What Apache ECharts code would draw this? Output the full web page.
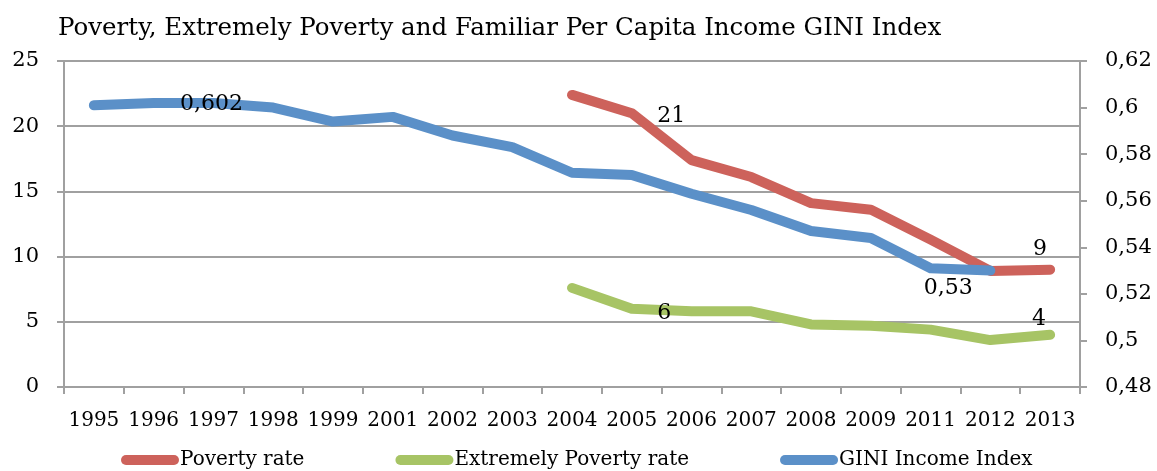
<!DOCTYPE html>
<html>
<head>
<meta charset="utf-8">
<script src="https://cdn.jsdelivr.net/npm/echarts@6/dist/echarts.min.js"></script>
<style>
  html, body { margin: 0; padding: 0; background: #ffffff; }
  #chart { width: 1157px; height: 471px; }
</style>
</head>
<body>
<div id="chart"></div>
<script>
// Years on the category axis
const years = ['1995','1996','1997','1998','1999','2001','2002','2003','2004','2005','2006','2007','2008','2009','2011','2012','2013'];

// Poverty rate (%), left axis
const povertyRate = [null, null, null, null, null, null, null, null, 22.4, 21, 17.4, 16.1, 14.1, 13.6, 11.3, 8.9, 9];

// Extreme poverty rate (%), left axis
const extremePovertyRate = [null, null, null, null, null, null, null, null, 7.6, 6, 5.8, 5.8, 4.8, 4.7, 4.4, 3.6, 4];

// GINI index of per-capita family income, right axis
const giniIndex = [0.601, 0.602, 0.602, 0.600, 0.594, 0.596, 0.588, 0.583, 0.572, 0.571, 0.563, 0.556, 0.547, 0.544, 0.531, 0.53, null];

// Tick settings
const leftTicks = { min: 0, max: 25, interval: 5 };
const rightTicks = { min: 0.48, max: 0.62, interval: 0.02 };

const FONT = '"DejaVu Serif", "Liberation Serif", serif';
const RED = '#CD625B';
const GREEN = '#A7C465';
const BLUE = '#5B90C8';
const GRID = '#A0A0A0';

const comma = v => String(+v.toFixed(3)).replace('.', ',');

// Attach a value label to selected points
function withLabels(values, labelled) {
  return values.map((v, i) => {
    const cfg = labelled[years[i]];
    if (v == null || !cfg) return v;
    return {
      value: v,
      label: Object.assign({
        show: true,
        color: '#000',
        fontFamily: FONT,
        fontSize: 22,
        formatter: p => comma(p.value)
      }, cfg)
    };
  });
}

const lineBase = {
  type: 'line',
  symbol: 'circle',
  symbolSize: 1,
  showSymbol: true,
  connectNulls: false,
  silent: true,
  lineStyle: { width: 10, cap: 'round', join: 'round' }
};

const capsule = 'path://M5 0H53A5 5 0 0 1 53 10H5A5 5 0 0 1 5 0Z';

const chart = echarts.init(document.getElementById('chart'), null, { renderer: 'canvas' });
chart.setOption({
  animation: false,
  backgroundColor: '#ffffff',
  title: {
    text: 'Poverty, Extremely Poverty and Familiar Per Capita Income GINI Index',
    left: 53,
    top: 11,
    textStyle: { fontFamily: FONT, fontSize: 24.5, fontWeight: 'normal', color: '#000' }
  },
  grid: { left: 64, right: 77, top: 61, bottom: 84 },
  legend: {
    top: 445,
    left: 116,
    itemWidth: 58,
    itemHeight: 10,
    itemGap: 91,
    icon: capsule,
    textStyle: { fontFamily: FONT, fontSize: 20, color: '#000', padding: [0, 0, 0, -4] },
    data: [
      { name: 'Poverty rate', itemStyle: { color: RED } },
      { name: 'Extremely Poverty rate', itemStyle: { color: GREEN } },
      { name: 'GINI Income Index', itemStyle: { color: BLUE } }
    ]
  },
  xAxis: {
    type: 'category',
    data: years,
    boundaryGap: true,
    axisLine: { lineStyle: { color: GRID, width: 2 } },
    axisTick: { show: true, length: 7, lineStyle: { color: GRID, width: 2 } },
    axisLabel: { fontFamily: FONT, fontSize: 20, color: '#000', margin: 24, interval: 0 }
  },
  yAxis: [
    {
      type: 'value',
      min: leftTicks.min, max: leftTicks.max, interval: leftTicks.interval,
      axisLine: { show: true, lineStyle: { color: GRID, width: 2 } },
      axisTick: { show: true, length: 7, lineStyle: { color: GRID, width: 2 } },
      splitLine: { show: true, lineStyle: { color: GRID, width: 2 } },
      axisLabel: { fontFamily: FONT, fontSize: 21, color: '#000', margin: 25 }
    },
    {
      type: 'value',
      position: 'right',
      min: rightTicks.min, max: rightTicks.max, interval: rightTicks.interval,
      axisLine: { show: true, lineStyle: { color: GRID, width: 2 } },
      axisTick: { show: true, length: 7, lineStyle: { color: GRID, width: 2 } },
      splitLine: { show: false },
      axisLabel: { fontFamily: FONT, fontSize: 21, color: '#000', margin: 25, formatter: v => comma(v) }
    }
  ],
  series: [
    Object.assign({}, lineBase, {
      name: 'Poverty rate',
      yAxisIndex: 0,
      itemStyle: { color: RED },
      lineStyle: Object.assign({}, lineBase.lineStyle, { color: RED }),
      z: 3,
      data: withLabels(povertyRate, {
        '2005': { position: 'right', distance: 25, offset: [0, 3] },
        '2013': { position: 'top', distance: 9, offset: [-10, 0] }
      })
    }),
    Object.assign({}, lineBase, {
      name: 'Extremely Poverty rate',
      yAxisIndex: 0,
      itemStyle: { color: GREEN },
      lineStyle: Object.assign({}, lineBase.lineStyle, { color: GREEN }),
      z: 3,
      data: withLabels(extremePovertyRate, {
        '2005': { position: 'right', distance: 25, offset: [0, 5] },
        '2013': { position: 'top', distance: 4, offset: [-11, 0] }
      })
    }),
    Object.assign({}, lineBase, {
      name: 'GINI Income Index',
      yAxisIndex: 1,
      itemStyle: { color: BLUE },
      lineStyle: Object.assign({}, lineBase.lineStyle, { color: BLUE }),
      z: 4,
      data: withLabels(giniIndex, {
        '1997': { position: 'inside', offset: [-2, 1] },
        '2012': { position: 'bottom', distance: 6, offset: [-42, 0] }
      })
    })
  ]
});
</script>
</body>
</html>
